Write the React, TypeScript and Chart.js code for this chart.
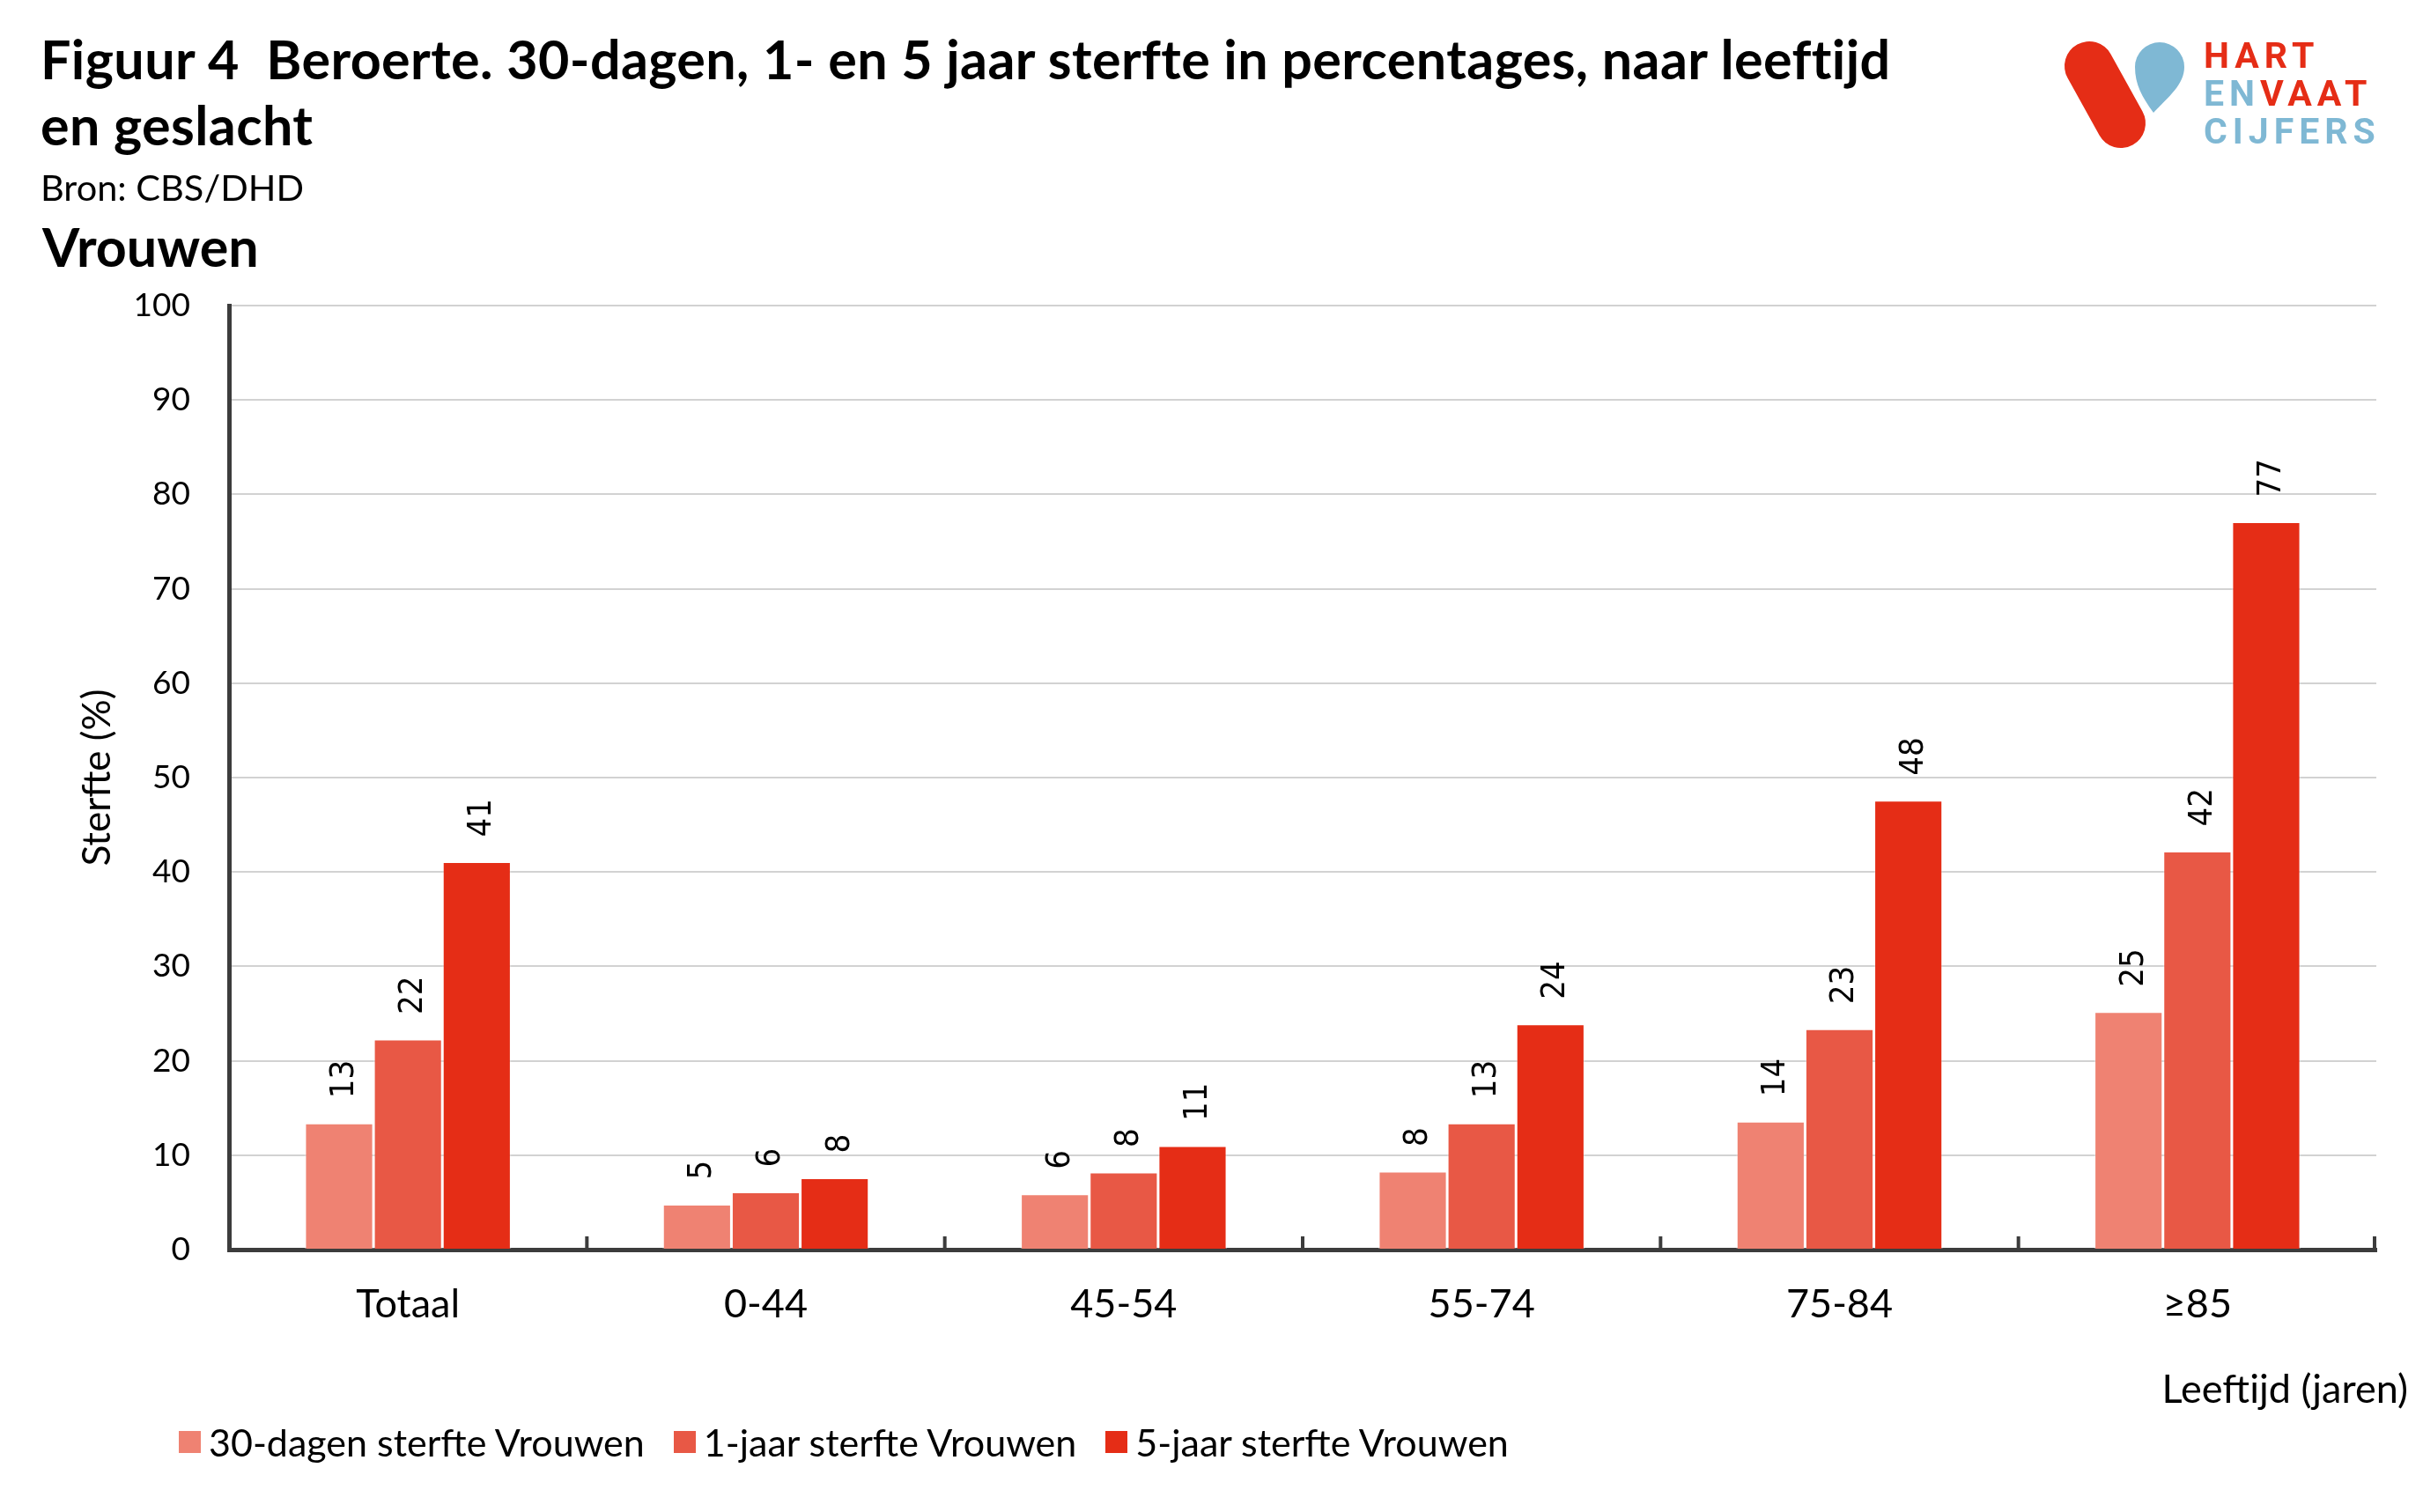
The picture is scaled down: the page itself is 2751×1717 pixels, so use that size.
import React, { useEffect, useRef } from "react";
import { Chart, registerables } from "chart.js";

Chart.register(...registerables);

// ---- data ----
const categories = ["Totaal", "0-44", "45-54", "55-74", "75-84", "≥85"];
const seriesNames = [
  "30-dagen sterfte Vrouwen",
  "1-jaar sterfte Vrouwen",
  "5-jaar sterfte Vrouwen",
];
const sterfte30Dagen = [13.4, 4.8, 5.9, 8.3, 13.6, 25.2];
const sterfte1Jaar = [22.3, 6.1, 8.2, 13.4, 23.4, 42.2];
const sterfte5Jaar = [41.1, 7.6, 11.0, 23.9, 47.6, 77.1];
const yMin = 0;
const yMax = 100;
const yStep = 10;

const seriesValues = [sterfte30Dagen, sterfte1Jaar, sterfte5Jaar];
const seriesColors = ["#EF8272", "#E85845", "#E52D16"];

const W = 2735;
const H = 1701;

const valueLabels = {
  id: "valueLabels",
  afterDatasetsDraw(chart: any) {
    const { ctx } = chart;
    ctx.save();
    ctx.fillStyle = "#000";
    ctx.font = "38px 'Liberation Sans Narrow', 'DejaVu Sans Condensed', 'DejaVu Sans'";
    ctx.textAlign = "left";
    ctx.textBaseline = "middle";
    chart.data.datasets.forEach((ds: any, di: number) => {
      const meta = chart.getDatasetMeta(di);
      meta.data.forEach((el: any, i: number) => {
        const v = ds.data[i];
        ctx.save();
        ctx.translate(el.x + 6, el.y - 28);
        ctx.rotate(-Math.PI / 2);
        ctx.fillText(String(Math.round(v)), 0, 0);
        ctx.restore();
      });
    });
    ctx.restore();
  },
};

const boundaryTicks = {
  id: "boundaryTicks",
  afterDatasetsDraw(chart: any) {
    const { ctx, chartArea } = chart;
    const xs = chart.scales.x;
    const n = chart.data.labels.length;
    ctx.save();
    ctx.strokeStyle = "#3c3c3c";
    ctx.lineWidth = 4;
    for (let i = 0; i < n; i++) {
      const px =
        i < n - 1
          ? (xs.getPixelForValue(i) + xs.getPixelForValue(i + 1)) / 2
          : chartArea.right - 2;
      ctx.beginPath();
      ctx.moveTo(px, chartArea.bottom);
      ctx.lineTo(px, chartArea.bottom - 15);
      ctx.stroke();
    }
    ctx.restore();
  },
};

function Logo() {
  return (
    <svg
      width={W}
      height={200}
      viewBox={`8 8 ${W} 200`}
      style={{ position: "absolute", left: 0, top: 0 }}
    >
      <line
        x1={2372}
        y1={75}
        x2={2408}
        y2={140}
        stroke="#E52D16"
        strokeWidth={56}
        strokeLinecap="round"
      />
      <path
        d="M 2445 128 C 2432 110, 2424 96, 2424 76 A 28 28 0 0 1 2480 76 C 2480 96, 2462 110, 2445 128 Z"
        fill="#7FB8D4"
      />
    </svg>
  );
}

export default function App() {
  const ref = useRef<HTMLCanvasElement>(null);

  useEffect(() => {
    const canvas = ref.current!;
    const chart = new Chart(canvas, {
      type: "bar",
      data: {
        labels: categories,
        datasets: seriesValues.map((vals, i) => ({
          label: seriesNames[i],
          data: vals,
          backgroundColor: seriesColors[i],
          borderColor: "rgba(255,255,255,0.3)",
          borderWidth: 1.5,
          barPercentage: 1,
          categoryPercentage: 0.577,
        })),
      },
      options: {
        responsive: false,
        animation: false,
        devicePixelRatio: 1,
        layout: { padding: { top: 339, right: 45, left: 0, bottom: 0 } },
        plugins: {
          legend: { display: false },
          tooltip: { enabled: false },
          title: { display: false },
        },
        scales: {
          x: {
            offset: true,
            grid: { display: false, drawTicks: false },
            border: { display: true, color: "#3c3c3c", width: 5 },
            ticks: {
              color: "#000",
              font: { family: "Lato", size: 45 },
              padding: 35,
              maxRotation: 0,
            },
            afterFit: (s: any) => {
              s.height = 290;
            },
          },
          y: {
            min: yMin,
            max: yMax,
            ticks: {
              stepSize: yStep,
              color: "#000",
              font: { family: "Lato", size: 37 },
              padding: 44,
            },
            grid: { color: "#d2d2d2", lineWidth: 2, drawTicks: false },
            border: { display: true, color: "#3c3c3c", width: 5 },
            title: {
              display: true,
              text: "Sterfte (%)",
              color: "#000",
              font: { family: "Lato", size: 44 },
              padding: { top: 76, bottom: 0 },
            },
            afterFit: (s: any) => {
              s.width = 252;
            },
          },
        },
      },
      plugins: [valueLabels, boundaryTicks],
    });
    return () => chart.destroy();
  }, []);

  const logoText: React.CSSProperties = {
    fontFamily: "Roboto",
    fontWeight: 700,
    fontSize: 41,
    letterSpacing: 6,
    lineHeight: "43px",
    whiteSpace: "nowrap",
  };

  return (
    <div
      style={{
        position: "relative",
        width: W,
        height: H,
        fontFamily: "Lato",
        color: "#000",
        overflow: "hidden",
      }}
    >
      <canvas ref={ref} width={W} height={H} style={{ position: "absolute", left: 0, top: 0 }} />
      <div
        style={{
          position: "absolute",
          left: 38,
          top: 21,
          fontWeight: 700,
          fontSize: 61,
          letterSpacing: 0.4,
          lineHeight: "75px",
          whiteSpace: "nowrap",
        }}
      >
        Figuur 4&nbsp; Beroerte. 30-dagen, 1- en 5 jaar sterfte in percentages, naar leeftijd
        <br />
        en geslacht
      </div>
      <div
        style={{
          position: "absolute",
          left: 38,
          top: 180,
          fontSize: 41.5,
          lineHeight: 1.2,
          whiteSpace: "nowrap",
        }}
      >
        Bron: CBS/DHD
      </div>
      <div
        style={{
          position: "absolute",
          left: 40,
          top: 235,
          fontWeight: 700,
          fontSize: 61,
          lineHeight: 1.2,
          whiteSpace: "nowrap",
        }}
      >
        Vrouwen
      </div>
      <Logo />
      <div style={{ position: "absolute", left: 2494, top: 34, ...logoText }}>
        <div style={{ color: "#E52D16" }}>HART</div>
        <div>
          <span style={{ color: "#7FB8D4" }}>EN</span>
          <span style={{ color: "#E52D16" }}>VAAT</span>
        </div>
        <div style={{ color: "#7FB8D4" }}>CIJFERS</div>
      </div>
      <div
        style={{
          position: "absolute",
          right: 9,
          top: 1541,
          fontSize: 45,
          lineHeight: 1.2,
          whiteSpace: "nowrap",
        }}
      >
        Leeftijd (jaren)
      </div>
      <div
        style={{
          position: "absolute",
          left: 195,
          top: 1604,
          height: 50,
          display: "flex",
          alignItems: "center",
          fontSize: 43,
          whiteSpace: "nowrap",
        }}
      >
        {seriesNames.map((name, i) => (
          <div key={name} style={{ display: "flex", alignItems: "center", marginRight: 33 }}>
            <div style={{ width: 25, height: 25, background: seriesColors[i], marginRight: 9 }} />
            <span>{name}</span>
          </div>
        ))}
      </div>
    </div>
  );
}
